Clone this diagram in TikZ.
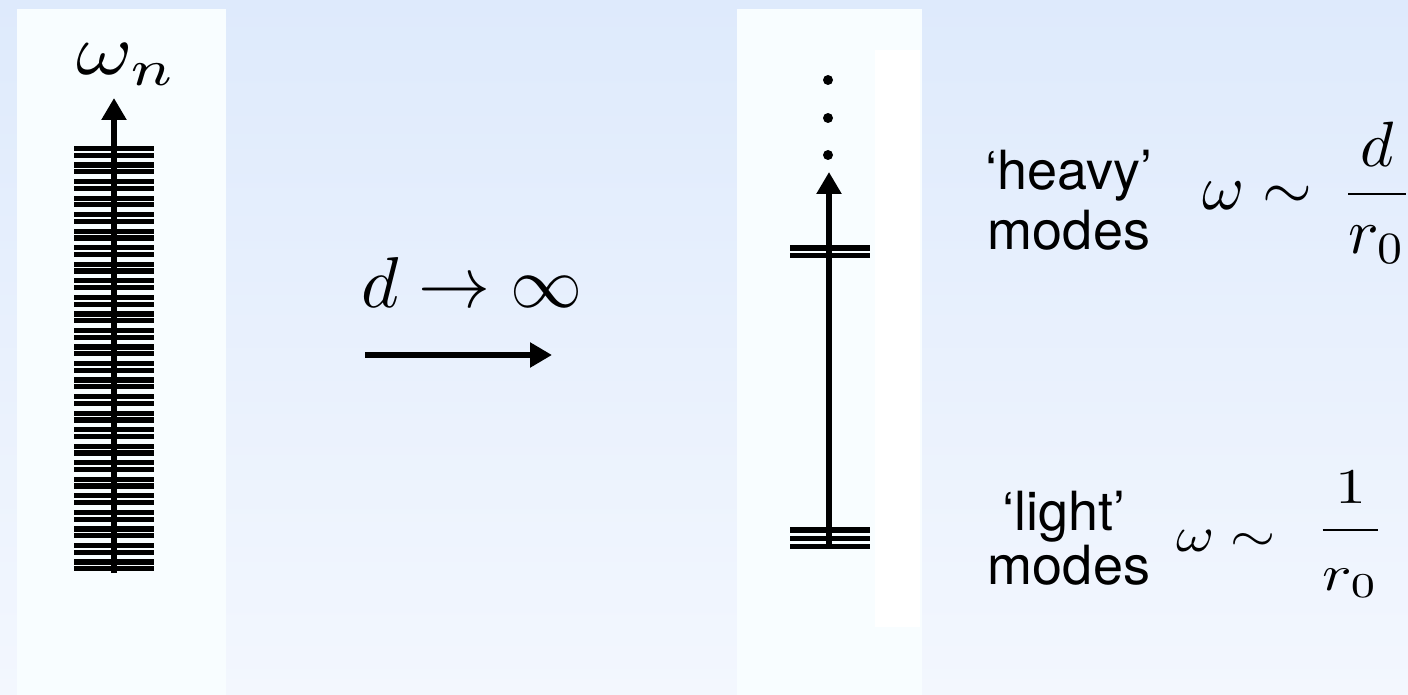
\documentclass[tikz,border=0pt]{standalone}
\usepackage{fontspec}
\newfontfamily\helv{TeX Gyre Heros}
\usetikzlibrary{arrows.meta}
\usetikzlibrary{math}
\definecolor{bgtop}{RGB}{222, 234, 252}
\definecolor{bgbot}{RGB}{243, 247, 254}
\definecolor{panel}{RGB}{248, 253, 255}

\begin{document}
\begin{tikzpicture}[x=0.5pt, y=-0.5pt,
    level/.style={line width=2.6pt},
    axisarrow/.style={line width=2.7pt, -{Triangle[length=11pt, width=12pt]}},
    modes/.style={font=\helv\fontsize{27}{32}\selectfont, anchor=base, inner sep=0pt},
    formula/.style={anchor=base west, inner sep=0pt}]
  \tikzmath{
    \ytop=148.5; \dy=8.27;
  }

  % background and panels
  \shade[top color=bgtop, bottom color=bgbot] (0,0) rectangle (1408,695);
  \useasboundingbox (0,0) rectangle (1408,695);
  \fill[panel] (17,9) rectangle (226,695);
  \fill[panel] (737,9) rectangle (922,695);
  \fill[white] (875,50) rectangle (920,627);

  % dense spectrum
  \foreach \i [evaluate={\yy=\ytop+\i*\dy-mod(\i,2)*1.5;}] in {0,...,51}{
    \draw[level] (74,\yy) -- (154,\yy);
  }
  \coordinate (lbot) at (114,573);
  \coordinate (ltop) at (114,98);
  \draw[axisarrow] (lbot) -- (ltop);
  \node[anchor=base, inner sep=0pt, xscale=4.3, yscale=3.6] (wn) at (127,75) {$\omega_n$};

  % limit
  \node[anchor=base, inner sep=0pt, scale=3.6] (lim) at (472,307) {$d\to\infty$};
  \coordinate (limA) at (365,355);
  \coordinate (limB) at (552,355);
  \draw[axisarrow] (limA) -- (limB);

  % split spectrum
  \foreach \y in {80,118,155}{
    \fill (828,\y) circle (2.5pt);
  }
  \foreach \y in {248,255.5}{
    \draw[level] (790,\y) -- (870,\y);
  }
  \foreach \y in {530,538.5,546.7}{
    \draw[level] (790,\y) -- (870,\y);
  }
  \coordinate (rbot) at (829,549);
  \coordinate (rtop) at (829,172);
  \draw[axisarrow] (rbot) -- (rtop);

  % labels
  \node[modes] (heavyq) at (1069,190) {‘heavy’};
  \node[modes] (heavym) at (1069,250) {modes};
  \node[formula, scale=3.2] (heavyf) at (1201,210)
    {$\omega\sim\mkern3mu\displaystyle\frac{d}{r_0}$};

  \node[modes] (lightq) at (1064,530) {‘light’};
  \node[modes] (lightm) at (1069,584) {modes};
  \node[formula, xscale=2.9, yscale=2.45] (lightw) at (1175,551) {$\omega\sim$};
  \node[formula, xscale=3.1, yscale=2.5] (lightf) at (1314,542.5)
    {$\displaystyle\frac{\rule[-4pt]{0pt}{4pt}1}{\rule{0pt}{10.6pt}r_0}$};
\end{tikzpicture}
\end{document}
